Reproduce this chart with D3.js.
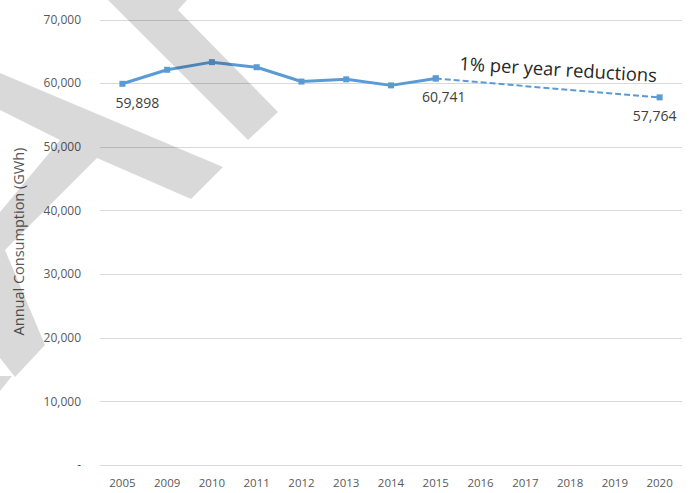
<!DOCTYPE html>
<html>
<head>
<meta charset="utf-8">
<script src="https://cdn.jsdelivr.net/npm/d3@7"></script>
<style>
  html, body { margin: 0; padding: 0; background: #fff; }
  svg { display: block; font-family: "Open Sans", "Noto Sans", sans-serif; }
</style>
</head>
<body>
<div id="chart"></div>
<script>
// categories on the x axis (2006-2008 are not shown in the source)
const categories = ['2005', '2009', '2010', '2011', '2012', '2013', '2014', '2015',
                    '2016', '2017', '2018', '2019', '2020'];

// measured consumption, GWh
const actualYears = ['2005', '2009', '2010', '2011', '2012', '2013', '2014', '2015'];
const actualValues = [59898, 62100, 63300, 62500, 60250, 60600, 59650, 60741];

// projection: 1% per year reductions
const projYears = ['2015', '2016', '2017', '2018', '2019', '2020'];
const projValues = [60741, 60134, 59532, 58937, 58348, 57764];
const projMarkerYears = ['2015', '2020'];

const yTicks = [0, 10000, 20000, 30000, 40000, 50000, 60000, 70000];

// labelled points
const labelYears = ['2005', '2015', '2020'];

const width = 691, height = 493;
const margin = { top: 19.5, right: 9, bottom: 28, left: 100 };

const svg = d3.select('#chart').append('svg')
  .attr('width', width)
  .attr('height', height);

const x = d3.scaleBand()
  .domain(categories)
  .range([margin.left, width - margin.right]);

const y = d3.scaleLinear()
  .domain([0, 70000])
  .range([height - margin.bottom, margin.top]);

const cx = d => x(d) + x.bandwidth() / 2;
const fmt = d3.format(',');

// gridlines
svg.append('g')
  .selectAll('line')
  .data(yTicks)
  .enter()
  .append('line')
  .attr('x1', margin.left)
  .attr('x2', width - margin.right)
  .attr('y1', d => Math.round(y(d)) + 0.5)
  .attr('y2', d => Math.round(y(d)) + 0.5)
  .attr('stroke', '#d9d9d9')
  .attr('stroke-width', 1);

// y axis labels
const yAxis = svg.append('g')
  .attr('transform', `translate(${margin.left - 16},0)`)
  .call(d3.axisLeft(y).tickValues(yTicks).tickSize(0)
    .tickFormat(d => d === 0 ? '-' : fmt(d)));
yAxis.select('.domain').remove();
yAxis.selectAll('text')
  .attr('fill', '#595959')
  .style('font-size', '12px')
  .style('font-family', '"Open Sans", "Noto Sans", sans-serif');

// x axis labels
const xAxis = svg.append('g')
  .attr('transform', `translate(0,${height - margin.bottom + 11})`)
  .call(d3.axisBottom(x).tickSize(0));
xAxis.select('.domain').remove();
xAxis.selectAll('text')
  .attr('fill', '#595959')
  .style('font-size', '11.5px')
  .style('font-family', '"Open Sans", "Noto Sans", sans-serif');

// y axis title
svg.append('text')
  .attr('transform', `translate(24,${241.5}) rotate(-90)`)
  .attr('text-anchor', 'middle')
  .attr('fill', '#595959')
  .style('font-size', '14.5px')
  .text('Annual Consumption (GWh)');

const blue = '#5b9bd5';

const line = d3.line()
  .x(d => cx(d[0]))
  .y(d => y(d[1]));

// projection (dashed)
const proj = projYears.map((d, i) => [d, projValues[i]]);
svg.append('path')
  .datum(proj)
  .attr('d', line)
  .attr('fill', 'none')
  .attr('stroke', blue)
  .attr('stroke-width', 2)
  .attr('stroke-dasharray', '6,3');

svg.append('g')
  .selectAll('rect')
  .data(proj.filter(d => projMarkerYears.includes(d[0])))
  .enter()
  .append('rect')
  .attr('x', d => cx(d[0]) - 3)
  .attr('y', d => y(d[1]) - 3)
  .attr('width', 6)
  .attr('height', 6)
  .attr('fill', blue);

// actual (solid)
const actual = actualYears.map((d, i) => [d, actualValues[i]]);
svg.append('path')
  .datum(actual)
  .attr('d', line)
  .attr('fill', 'none')
  .attr('stroke', blue)
  .attr('stroke-width', 3)
  .attr('stroke-linejoin', 'round');

svg.append('g')
  .selectAll('rect')
  .data(actual)
  .enter()
  .append('rect')
  .attr('x', d => cx(d[0]) - 3)
  .attr('y', d => y(d[1]) - 3)
  .attr('width', 6)
  .attr('height', 6)
  .attr('fill', blue);

// data labels
const allPoints = actual.concat(proj.slice(1));
const labelDx = { '2005': 15, '2015': 8, '2020': -5 };
svg.append('g')
  .selectAll('text')
  .data(allPoints.filter(d => labelYears.includes(d[0])))
  .enter()
  .append('text')
  .attr('x', d => cx(d[0]) + labelDx[d[0]])
  .attr('y', d => y(d[1]) + 24)
  .attr('text-anchor', 'middle')
  .attr('fill', '#404040')
  .style('font-size', '14px')
  .text(d => fmt(d[1]));

// annotation
svg.append('text')
  .attr('transform', 'translate(459,70) rotate(3.5)')
  .attr('fill', '#262626')
  .style('font-size', '18.4px')
  .text('1% per year reductions');

// watermark overlay
const wm = svg.append('g').attr('fill', '#000').attr('fill-opacity', 0.15);
[
  [[108, 0], [187, 0], [178, 10], [278, 112], [248, 140]],
  [[0, 73], [223, 167], [191, 199], [97, 158], [5, 250], [45, 345], [15, 377],
   [0, 358], [0, 212], [60, 140], [0, 110]],
  [[0, 376], [12, 376], [0, 391]]
].forEach(pts => {
  wm.append('polygon').attr('points', pts.map(p => p.join(',')).join(' '));
});
</script>
</body>
</html>
